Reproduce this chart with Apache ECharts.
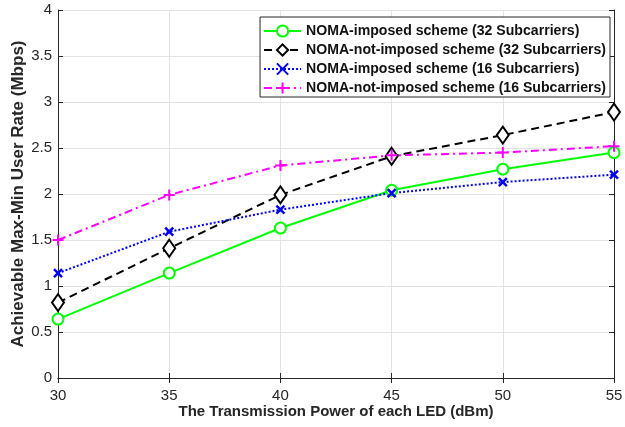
<!DOCTYPE html>
<html>
<head>
<meta charset="utf-8">
<script src="https://cdn.jsdelivr.net/npm/echarts@6/dist/echarts.min.js"></script>
<style>
  html, body { margin: 0; padding: 0; background: #fff; }
  #chart { width: 625px; height: 427px; }
</style>
</head>
<body>
<div id="chart"></div>
<script>
// Transmit power of each LED (dBm)
const powers = [30, 35, 40, 45, 50, 55];

// Achievable max-min user rate (Mbps)
const imposed32 = [0.64, 1.14, 1.63, 2.04, 2.27, 2.45];
const notImposed32 = [0.82, 1.41, 1.99, 2.41, 2.64, 2.89];
const imposed16 = [1.14, 1.59, 1.83, 2.01, 2.13, 2.21];
const notImposed16 = [1.50, 1.99, 2.31, 2.42, 2.45, 2.52];

const seriesNames = [
  'NOMA-imposed scheme (32 Subcarriers)',
  'NOMA-not-imposed scheme (32 Subcarriers)',
  'NOMA-imposed scheme (16 Subcarriers)',
  'NOMA-not-imposed scheme (16 Subcarriers)'
];

const pair = arr => powers.map((p, i) => [p, arr[i]]);

const crossPath = 'path://M0,0L10,10M10,0L0,10';
const plusPath = 'path://M5,0L5,10M0,5L10,5';

const FONT = 'Liberation Sans, Arial, sans-serif';
const axisText = { color: '#262626', fontFamily: FONT, fontSize: 15 };
const frameLine = { show: true, lineStyle: { color: '#262626', width: 1 } };
const inTicks = { show: true, inside: true, length: 5, lineStyle: { color: '#262626' } };

const chart = echarts.init(document.getElementById('chart'));
chart.setOption({
  animation: false,
  grid: { left: 58, right: 11, top: 10, bottom: 49, containLabel: false, outerBoundsMode: 'none' },
  legend: {
    orient: 'vertical',
    right: 15,
    top: 17,
    backgroundColor: '#fff',
    borderColor: '#262626',
    borderWidth: 1,
    padding: [7, 4, 2, 3],
    itemGap: 5,
    itemWidth: 37,
    itemHeight: 14,
    textStyle: { color: '#111', fontWeight: 'bold', fontSize: 14.1, fontFamily: FONT },
    data: seriesNames
  },
  xAxis: [{
    type: 'value', min: 30, max: 55, interval: 5,
    name: 'The Transmission Power of each LED (dBm)',
    nameLocation: 'middle', nameGap: 26, nameMoveOverlap: false,
    nameTextStyle: { color: '#262626', fontWeight: 'bold', fontSize: 15, fontFamily: FONT },
    axisLine: frameLine,
    axisTick: inTicks,
    axisLabel: Object.assign({ margin: 10 }, axisText),
    splitLine: { show: true, lineStyle: { color: '#e3e3e3', width: 1 } }
  }, {
    type: 'value', min: 30, max: 55, interval: 5, position: 'top',
    axisLine: frameLine,
    axisTick: inTicks,
    axisLabel: { show: false }, splitLine: { show: false }
  }],
  yAxis: [{
    type: 'value', min: 0, max: 4, interval: 0.5,
    name: 'Achievable Max-Min User Rate (Mbps)',
    nameLocation: 'middle', nameGap: 31, nameMoveOverlap: false,
    nameTextStyle: { color: '#262626', fontWeight: 'bold', fontSize: 17, fontFamily: FONT },
    axisLine: frameLine,
    axisTick: inTicks,
    axisLabel: Object.assign({ margin: 6 }, axisText),
    splitLine: { show: true, lineStyle: { color: '#e3e3e3', width: 1 } }
  }, {
    type: 'value', min: 0, max: 4, interval: 0.5, position: 'right',
    axisLine: frameLine,
    axisTick: inTicks,
    axisLabel: { show: false }, splitLine: { show: false }
  }],
  series: [{
    name: seriesNames[0], type: 'line', data: pair(imposed32),
    symbol: 'emptyCircle', symbolSize: 11,
    lineStyle: { color: '#00ff00', width: 2, type: 'solid' },
    itemStyle: { color: '#00ff00', borderColor: '#00ff00', borderWidth: 2 }
  }, {
    name: seriesNames[1], type: 'line', data: pair(notImposed32),
    symbol: 'emptyDiamond', symbolSize: [12, 17],
    lineStyle: { color: '#000', width: 2, type: [8, 5] },
    itemStyle: { color: '#000', borderColor: '#000', borderWidth: 2 }
  }, {
    name: seriesNames[2], type: 'line', data: pair(imposed16),
    symbol: crossPath, symbolSize: 8,
    lineStyle: { color: '#0000ff', width: 2, type: [2, 2] },
    itemStyle: { color: '#0000ff', borderColor: '#0000ff', borderWidth: 2.5 }
  }, {
    name: seriesNames[3], type: 'line', data: pair(notImposed16),
    symbol: plusPath, symbolSize: 11,
    lineStyle: { color: '#ff00ff', width: 2, type: [8, 4, 2, 4] },
    itemStyle: { color: '#ff00ff', borderColor: '#ff00ff', borderWidth: 2 }
  }]
});
</script>
</body>
</html>
